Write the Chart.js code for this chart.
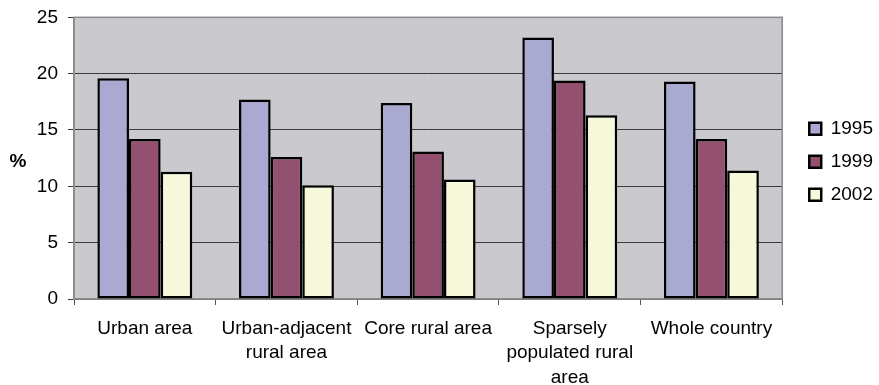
<!DOCTYPE html>
<html>
<head>
<meta charset="utf-8">
<script src="https://cdn.jsdelivr.net/npm/chart.js@4/dist/chart.umd.min.js"></script>
<style>
  html, body { margin: 0; padding: 0; background: #ffffff; }
  #wrap { width: 879px; height: 385px; position: relative; }
</style>
</head>
<body>
<div id="wrap"><canvas id="chart" width="879" height="385"></canvas></div>
<script>
// Regions compared, with multi-line labels
const categories = [
  'Urban area',
  ['Urban-adjacent', 'rural area'],
  'Core rural area',
  ['Sparsely', 'populated rural', 'area'],
  'Whole country'
];
const seriesNames = ['1995', '1999', '2002'];
const values1995 = [19.6, 17.7, 17.4, 23.2, 19.3];
const values1999 = [14.2, 12.6, 13.1, 19.4, 14.2];
const values2002 = [11.3, 10.1, 10.6, 16.3, 11.4];
const yTicks = [0, 5, 10, 15, 20, 25];

const FONT = '"Liberation Sans", Arial, sans-serif';
const colors = ['#a9a9d1', '#93506f', '#f7f7da'];

// Gray plot background plus frame, and the horizontal "%" axis caption
const plotFrame = {
  id: 'plotFrame',
  beforeDraw(chart) {
    const { ctx, chartArea: a } = chart;
    ctx.save();
    ctx.fillStyle = '#cac9cd';
    ctx.fillRect(a.left, a.top, a.right - a.left, a.bottom - a.top);
    ctx.restore();
  },
  beforeDatasetsDraw(chart) {
    const { ctx, chartArea: a } = chart;
    ctx.save();
    ctx.strokeStyle = '#8a8a8a';
    ctx.lineWidth = 1.5;
    ctx.strokeRect(a.left, a.top, a.right - a.left, a.bottom - a.top);
    ctx.restore();
  },
  afterDraw(chart) {
    const { ctx, chartArea: a } = chart;
    ctx.save();
    ctx.font = 'bold 19px ' + FONT;
    ctx.fillStyle = '#000';
    ctx.textAlign = 'center';
    ctx.textBaseline = 'middle';
    ctx.fillText('%', 18, (a.top + a.bottom) / 2 + 4);
    ctx.restore();
  }
};

// Place the legend a little away from the plot, level with its upper half
const legendPlace = {
  id: 'legendPlace',
  afterLayout(chart) {
    const lg = chart.legend;
    if (!lg) return;
    const a = chart.chartArea;
    const h = lg.bottom - lg.top;
    lg.left += 13;
    lg.right += 13;
    lg.top = a.top + 88;
    lg.bottom = lg.top + h;
  }
};

const makeSet = (label, data, color) => ({
  label, data,
  backgroundColor: color,
  borderColor: '#000000',
  borderWidth: 2.5,
  borderSkipped: false,
  categoryPercentage: 0.67,
  barPercentage: 1.0
});

new Chart(document.getElementById('chart'), {
  type: 'bar',
  data: {
    labels: categories,
    datasets: [
      makeSet(seriesNames[0], values1995, colors[0]),
      makeSet(seriesNames[1], values1999, colors[1]),
      makeSet(seriesNames[2], values2002, colors[2])
    ]
  },
  options: {
    responsive: false,
    animation: false,
    devicePixelRatio: 1,
    layout: { padding: { top: 0, right: 9, bottom: 0, left: 0 } },
    plugins: {
      tooltip: { enabled: false },
      legend: {
        position: 'right',
        align: 'start',
        labels: {
          boxWidth: 12,
          boxHeight: 12,
          padding: 14,
          color: '#000',
          font: { family: FONT, size: 19 }
        }
      }
    },
    scales: {
      x: {
        grid: { offset: true, drawOnChartArea: false, tickLength: 6, color: '#555', lineWidth: 1 },
        border: { color: '#8a8a8a', width: 1.5 },
        ticks: {
          color: '#000',
          autoSkip: false,
          maxRotation: 0,
          minRotation: 0,
          padding: 11,
          font: { family: FONT, size: 19, lineHeight: 1.3 }
        },
        afterFit(scale) { scale.height = 86; }
      },
      y: {
        min: 0,
        max: 25,
        afterBuildTicks(scale) { scale.ticks = yTicks.map(v => ({ value: v })); },
        grid: { color: '#3a3a3a', lineWidth: 1, tickLength: 6 },
        border: { color: '#8a8a8a', width: 1.5 },
        ticks: {
          color: '#000',
          padding: 10,
          font: { family: FONT, size: 19, lineHeight: 0.77 }
        },
        afterFit(scale) { scale.width = 74; }
      }
    }
  },
  plugins: [plotFrame, legendPlace]
});
</script>
</body>
</html>
